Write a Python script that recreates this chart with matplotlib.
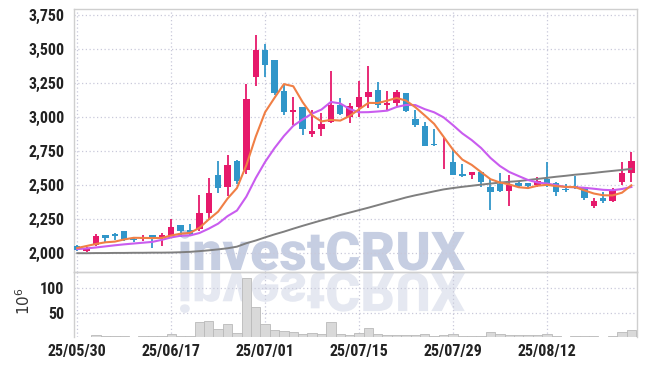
import matplotlib
matplotlib.use('Agg')
import matplotlib.pyplot as plt
from matplotlib.textpath import TextPath
from matplotlib.patches import PathPatch
from matplotlib.font_manager import FontProperties
from matplotlib.transforms import Affine2D, IdentityTransform

# daily candles, 25/05/30 .. 25/08/26 (trading days only)
opens = [2055, 2020, 2060, 2135, 2140, 2165, 2108, 2105, 2132, 2112,
         2130, 2210, 2173, 2180, 2300, 2575, 2485, 2680, 2610, 3295,
         3495, 3420, 3190, 3035, 3072, 2880, 2910, 2968, 3090, 3005,
         3077, 3150, 3200, 3087, 3102, 3175, 2990, 2938, 2800, 2705,
         2670, 2585, 2578, 2598, 2485, 2510, 2461, 2518, 2517, 2503,
         2547, 2515, 2474, 2492, 2486, 2352, 2405, 2382, 2523, 2590]
highs = [2065, 2045, 2140, 2138, 2150, 2168, 2120, 2135, 2135, 2150,
         2255, 2212, 2215, 2430, 2555, 2675, 2725, 2685, 3245, 3605,
         3540, 3422, 3235, 3145, 3075, 3050, 3033, 3340, 3140, 3105,
         3268, 3375, 3255, 3195, 3200, 3178, 3050, 2965, 2910, 2845,
         2760, 2655, 2600, 2600, 2550, 2590, 2575, 2535, 2520, 2564,
         2670, 2525, 2510, 2570, 2490, 2410, 2449, 2478, 2670, 2742]
lows = [2015, 2010, 2055, 2085, 2100, 2095, 2085, 2090, 2040, 2058,
        2125, 2120, 2130, 2165, 2245, 2445, 2420, 2510, 2585, 3230,
        3295, 3160, 3015, 2945, 2870, 2858, 2865, 2955, 3015, 2955,
        3005, 3065, 3068, 3048, 3085, 3040, 2925, 2785, 2792, 2618,
        2575, 2560, 2545, 2490, 2320, 2450, 2350, 2480, 2470, 2490,
        2490, 2425, 2448, 2470, 2392, 2337, 2370, 2380, 2503, 2527]
closes = [2025, 2040, 2125, 2115, 2130, 2105, 2102, 2118, 2110, 2135,
          2195, 2168, 2145, 2295, 2445, 2480, 2650, 2530, 3130, 3495,
          3380, 3175, 3035, 3052, 2910, 2898, 2950, 3090, 3025, 3080,
          3145, 3183, 3088, 3107, 3182, 3048, 2940, 2790, 2795, 2710,
          2577, 2572, 2598, 2528, 2448, 2460, 2502, 2492, 2498, 2532,
          2498, 2450, 2468, 2488, 2410, 2385, 2382, 2466, 2588, 2678]

# moving averages
ma5 = [2040, 2055, 2070, 2082, 2087, 2103, 2115, 2114, 2113, 2114,
       2132, 2145, 2151, 2188, 2250, 2307, 2403, 2480, 2647, 2857,
       3037, 3142, 3243, 3227, 3110, 3014, 2969, 2980, 2975, 3009,
       3058, 3105, 3104, 3121, 3141, 3122, 3073, 3013, 2951, 2857,
       2762, 2689, 2650, 2597, 2545, 2521, 2507, 2486, 2480, 2497,
       2504, 2494, 2489, 2487, 2463, 2440, 2427, 2426, 2446, 2500]
ma10 = [2032, 2037, 2044, 2052, 2060, 2067, 2073, 2079, 2085, 2100,
        2118, 2130, 2132, 2150, 2182, 2219, 2274, 2315, 2417, 2553,
        2672, 2773, 2862, 2937, 2984, 3026, 3056, 3112, 3101, 3060,
        3036, 3037, 3042, 3048, 3075, 3090, 3089, 3059, 3036, 2999,
        2942, 2881, 2832, 2774, 2701, 2642, 2598, 2568, 2539, 2521,
        2513, 2501, 2488, 2486, 2482, 2475, 2467, 2464, 2473, 2488]
ma_long = [2002, 2002, 2003, 2003, 2004, 2004, 2005, 2005, 2006, 2006,
           2007, 2009, 2012, 2017, 2023, 2030, 2038, 2050, 2075, 2095,
           2118, 2140, 2160, 2182, 2203, 2223, 2243, 2262, 2282, 2300,
           2318, 2336, 2355, 2374, 2392, 2411, 2427, 2441, 2456, 2470,
           2480, 2489, 2497, 2505, 2513, 2520, 2526, 2531, 2539, 2547,
           2555, 2563, 2570, 2578, 2584, 2591, 2599, 2606, 2613, 2621]

# volume in millions
volume = [1, 1, 4, 2, 2, 2, 1, 2, 2, 2,
          6, 2, 2, 31, 33, 16.5, 27, 9, 121, 62,
          27, 14.5, 13, 11, 7, 8, 7, 31, 7, 5,
          8, 19, 7, 4, 4, 4, 4, 7, 3, 5,
          6, 3, 2, 3, 10, 7, 4, 4, 4, 5,
          6, 3, 1, 2, 2, 2, 1, 2, 10, 14]

tick_pos = [0, 10, 20, 30, 40, 50]
tick_labels = ['25/05/30', '25/06/17', '25/07/01', '25/07/15', '25/07/29', '25/08/12']
price_ticks = [2000, 2250, 2500, 2750, 3000, 3250, 3500, 3750]
vol_ticks = [50, 100]

UP = '#e6196b'
DOWN = '#3196c9'
GRID = '#c9c9da'
SPINE = '#cfcfcf'
tick_font = ['Roboto Condensed', 'Roboto', 'DejaVu Sans']

W, H = 647, 366
fig = plt.figure(figsize=(W / 100, H / 100), dpi=100)
fig.patch.set_facecolor('white')

ax = fig.add_axes([74 / W, (H - 272) / H, 563 / W, 263 / H])
axv = fig.add_axes([74 / W, (H - 337) / H, 563 / W, 65 / H], sharex=ax)
for a in (ax, axv):
    a.set_facecolor('none')

# watermark with reflection, drawn behind the axes
prop = FontProperties(family='Roboto', weight='heavy')
tp = TextPath((0, 0), 'investCRUX', size=1, prop=prop)
ext = tp.get_extents()
s = 285 / ext.width
x0, base = 180, H - 270
wm = PathPatch(tp, transform=Affine2D().translate(-ext.x0, 0).scale(s).translate(x0, base) + IdentityTransform(),
               facecolor='#c6cee2', edgecolor='none', zorder=-5)
refl = PathPatch(tp, transform=Affine2D().translate(-ext.x0, 0).scale(s, -s).translate(x0, base - 3) + IdentityTransform(),
                 facecolor='#e5e8f1', edgecolor='none', zorder=-5)
fig.patches.extend([wm, refl])

# candles
idx = list(range(len(closes)))
for i in idx:
    o, h, l, c = opens[i], highs[i], lows[i], closes[i]
    col = UP if c >= o else DOWN
    ax.vlines(i, l, h, color=col, lw=1.3, zorder=3)
    ax.bar(i, max(abs(c - o), 6), bottom=min(o, c), width=0.68, color=col, zorder=3)

ax.plot(idx, ma_long, color='#7f7f7f', lw=1.4, zorder=4)
ax.plot(idx, ma10, color='#c95cef', lw=1.5, zorder=4)
ax.plot(idx, ma5, color='#f07f45', lw=1.5, zorder=4)

axv.bar(idx, volume, width=1.0, color='#d9d9d9', edgecolor='#b9b9b9', lw=0.6, zorder=3)

ax.set_xlim(-0.35, 59.6)
ax.set_ylim(1864, 3794)
axv.set_ylim(0, 134)

ax.set_yticks(price_ticks)
ax.set_yticklabels([f'{v:,}' for v in price_ticks])
axv.set_yticks(vol_ticks)
axv.set_xticks(tick_pos)
axv.set_xticklabels(tick_labels)
ax.tick_params(axis='x', labelbottom=False)

for a in (ax, axv):
    a.grid(True, color=GRID, lw=0.9, linestyle=(0, (1, 2)))
    a.set_axisbelow(True)
    a.tick_params(length=0, pad=7, labelsize=11.5, labelcolor='#222222')
    for lab in a.get_xticklabels() + a.get_yticklabels():
        lab.set_family(tick_font)
        lab.set_fontstretch('condensed')
        lab.set_fontweight('bold')
    for sp in a.spines.values():
        sp.set_color(SPINE)
        sp.set_linewidth(1.0)
axv.spines['bottom'].set_visible(False)
axv.tick_params(axis='x', pad=5)

axv.set_ylabel(r'$10^6$', fontsize=11, color='#333333', rotation=90)
axv.yaxis.set_label_coords(-0.073, 0.55)

fig.savefig('out.png', dpi=100)
